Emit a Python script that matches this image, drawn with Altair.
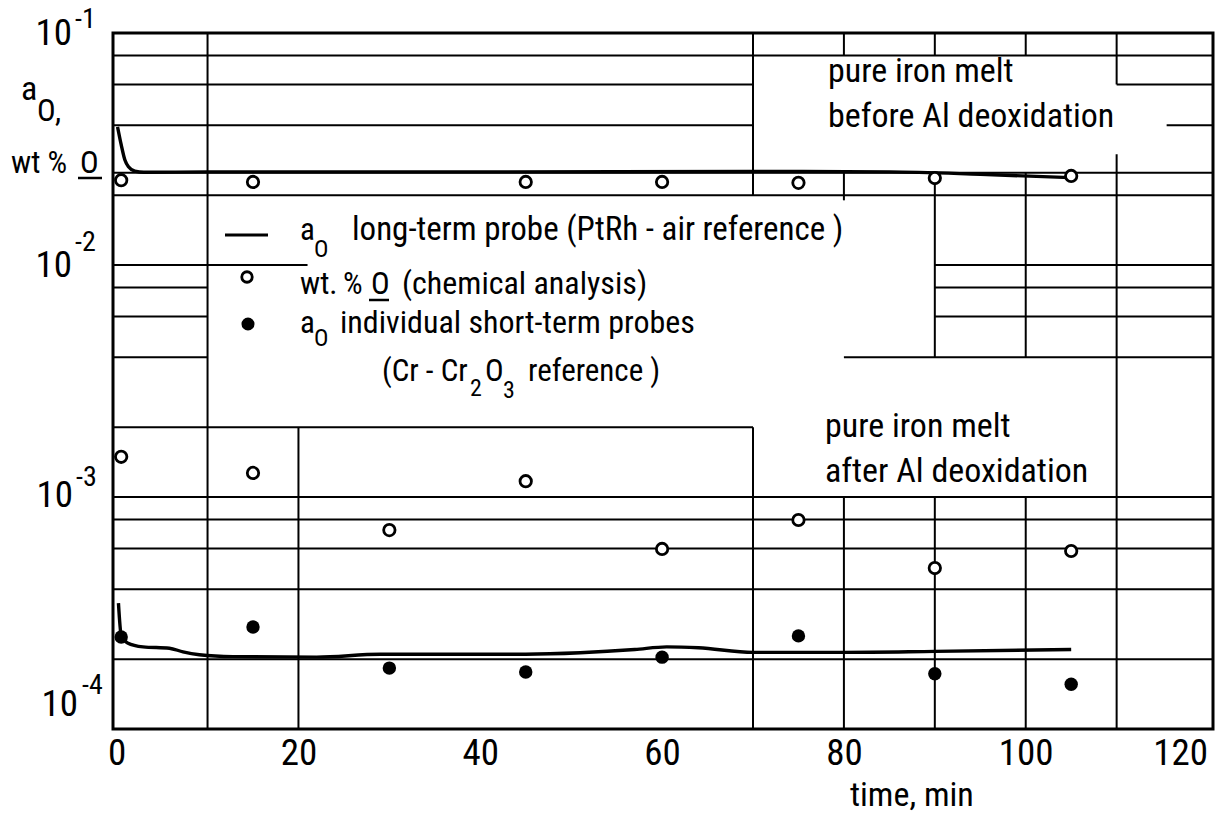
import altair as alt
import pandas as pd

# ---------------------------------------------------------------------------
# Oxygen activity a_O and oxygen content (wt.% O) of a pure iron melt
# before and after Al deoxidation, plotted against time (min)
# ---------------------------------------------------------------------------

# long-term probe (PtRh - air reference), before Al deoxidation
LT_BEFORE_T = [0.1, 0.5, 0.9, 1.3, 2.0, 3.0, 10, 40, 70, 85, 95, 105]
LT_BEFORE_A = [0.0394, 0.033, 0.0284, 0.0265, 0.0254, 0.0251, 0.0252,
               0.0252, 0.0253, 0.0252, 0.0246, 0.0238]

# long-term probe, after Al deoxidation
LT_AFTER_T = [0.2, 0.5, 1.2, 2.9, 5.8, 7.3, 9.1, 12.8, 22, 29, 45, 51,
              57, 60.5, 64, 70, 80, 90, 105]
LT_AFTER_A = [3.49e-4, 2.54e-4, 2.35e-4, 2.26e-4, 2.23e-4, 2.15e-4,
              2.09e-4, 2.05e-4, 2.04e-4, 2.10e-4, 2.10e-4, 2.13e-4,
              2.20e-4, 2.26e-4, 2.24e-4, 2.14e-4, 2.14e-4, 2.16e-4, 2.20e-4]

# chemical analysis, wt.% O
CHEM_BEFORE_T = [0.5, 15, 45, 60, 75, 90, 105]
CHEM_BEFORE = [0.0232, 0.0228, 0.0228, 0.0228, 0.0226, 0.0237, 0.0242]
CHEM_AFTER_T = [0.5, 15, 30, 45, 60, 75, 90, 105]
CHEM_AFTER = [1.49e-3, 1.27e-3, 7.2e-4, 1.17e-3, 5.97e-4, 7.96e-4,
              4.94e-4, 5.85e-4]

# individual short-term probes (Cr - Cr2O3 reference)
SHORT_T = [0.5, 15, 30, 45, 60, 75, 90, 105]
SHORT_A = [2.49e-4, 2.75e-4, 1.83e-4, 1.76e-4, 2.04e-4, 2.52e-4,
           1.73e-4, 1.56e-4]

# axes
X_DOMAIN = [-0.4, 120.6]
Y_DOMAIN = [1e-4, 1e-1]
X_TICKS = [0, 20, 40, 60, 80, 100, 120]
Y_TICK_VALUES = [1e-1, 1e-2, 1e-3, 1e-4]
Y_TICK_EXP = ["-1", "-2", "-3", "-4"]

# grid paper: horizontal segments (value, from t, to t)
L, R = X_DOMAIN
GRID_H_VALUE = [0.08, 0.06, 0.06, 0.04, 0.04, 0.025, 0.02,
                0.01, 0.01, 0.008, 0.008, 0.006, 0.006, 0.004, 0.004,
                0.002, 0.001, 8e-4, 6e-4, 4e-4, 2e-4]
GRID_H_FROM = [L, L, 110, L, 115.5, L, L,
               L, 90, L, 90, L, 90, L, 80,
               L, L, L, L, L, L]
GRID_H_TO = [R, 70, R, 70, R, R, R,
             21, R, 10, R, 10, R, 10, R,
             70, R, R, R, R, R]
# vertical segments (t, from value, to value)
GRID_V_T = [10, 20, 70, 70, 80, 80, 80, 90, 90, 90, 100, 100, 100, 110, 110]
GRID_V_FROM = [0.1, 0.002, 0.1, 0.002, 0.1, 0.025, 0.001, 0.1, 0.025, 0.001,
               0.1, 0.025, 0.001, 0.1, 0.03]
GRID_V_TO = [1e-4, 1e-4, 0.02, 1e-4, 0.08, 0.019, 1e-4, 0.08, 0.004, 1e-4,
             0.08, 0.004, 1e-4, 0.06, 1e-4]

# ---------------------------------------------------------------------------
FONT = ("'Roboto Condensed', 'Liberation Sans Narrow', "
        "'DejaVu Sans Condensed', 'Liberation Sans', sans-serif")
LEFT, TOP, W, H = 113, 33, 1100, 696

xs = alt.Scale(domain=X_DOMAIN, nice=False, zero=False)
ys = alt.Scale(type="log", domain=Y_DOMAIN, nice=False)

x_axis = alt.Axis(
    values=X_TICKS, format="d", grid=False, ticks=False, domain=False,
    labelFont=FONT, labelFontSize=37, labelColor="black", labelPadding=6,
    labelFlush=False, labelOverlap=False, title=None,
    labelAlign={"condition": {"test": "datum.value == 120", "value": "right"},
                "value": "center"},
)

hgrid_df = pd.DataFrame({"v": GRID_H_VALUE, "t0": GRID_H_FROM, "t1": GRID_H_TO})
vgrid_df = pd.DataFrame({"t": GRID_V_T, "v0": GRID_V_FROM, "v1": GRID_V_TO})

hgrid = alt.Chart(hgrid_df).mark_rule(color="black", strokeWidth=2).encode(
    x=alt.X("t0:Q", scale=xs, axis=x_axis),
    x2="t1:Q",
    y=alt.Y("v:Q", scale=ys, axis=None),
)
vgrid = alt.Chart(vgrid_df).mark_rule(color="black", strokeWidth=2).encode(
    x=alt.X("t:Q", scale=xs),
    y=alt.Y("v0:Q", scale=ys),
    y2="v1:Q",
)

lines_df = pd.concat([
    pd.DataFrame({"t": LT_BEFORE_T, "a": LT_BEFORE_A, "run": "before"}),
    pd.DataFrame({"t": LT_AFTER_T, "a": LT_AFTER_A, "run": "after"}),
])
probe_lines = alt.Chart(lines_df).mark_line(
    color="black", strokeWidth=3.4, interpolate="monotone"
).encode(
    x=alt.X("t:Q", scale=xs),
    y=alt.Y("a:Q", scale=ys),
    detail="run:N",
)

chem_df = pd.DataFrame({"t": CHEM_BEFORE_T + CHEM_AFTER_T,
                        "w": CHEM_BEFORE + CHEM_AFTER})
chem = alt.Chart(chem_df).mark_point(
    shape="circle", filled=True, fill="white", stroke="black",
    strokeWidth=2.8, size=130, opacity=1,
).encode(x=alt.X("t:Q", scale=xs), y=alt.Y("w:Q", scale=ys))

short_df = pd.DataFrame({"t": SHORT_T, "a": SHORT_A})
short = alt.Chart(short_df).mark_point(
    shape="circle", filled=True, color="black", size=180, opacity=1,
).encode(x=alt.X("t:Q", scale=xs), y=alt.Y("a:Q", scale=ys))

# y tick labels "10" with raised exponent, nudged per decade
ytick_df = pd.DataFrame({"v": Y_TICK_VALUES, "exp": Y_TICK_EXP})
TEN_RIGHT = [72, 72, 73, 78]
TEN_DY = [1, 1, -1, -24]
EXP_LEFT = [75, 75, 76, 82]
EXP_DY = [-13, -22, -19, -43]
ytick_layers = []
for i, v in enumerate(Y_TICK_VALUES):
    sel = alt.Chart(ytick_df).transform_filter(f"abs(datum.v - {v}) < {v} * 1e-6")
    ytick_layers.append(sel.mark_text(
        text="10", font=FONT, fontSize=37, align="right", baseline="middle",
        dy=TEN_DY[i], color="black",
    ).encode(x=alt.value(TEN_RIGHT[i] - LEFT), y=alt.Y("v:Q", scale=ys)))
    ytick_layers.append(sel.mark_text(
        font=FONT, fontSize=28, align="left", baseline="middle",
        dy=EXP_DY[i], color="black",
    ).encode(x=alt.value(EXP_LEFT[i] - LEFT), y=alt.Y("v:Q", scale=ys),
             text="exp:N"))

ONE = alt.Data(values=[{"k": 0}])


def text_at(s, x, y, size, align="left", baseline="alphabetic"):
    """Text placed in page pixels (x, y)."""
    return alt.Chart(ONE).mark_text(
        text=s, font=FONT, fontSize=size, align=align, baseline=baseline,
        color="black",
    ).encode(x=alt.value(x - LEFT), y=alt.value(y - TOP))


def hline_at(x0, x1, y, width=2.5):
    return alt.Chart(ONE).mark_rule(color="black", strokeWidth=width).encode(
        x=alt.value(x0 - LEFT), x2=alt.value(x1 - LEFT), y=alt.value(y - TOP))


def dot_at(x, y, filled_black):
    if filled_black:
        m = alt.Chart(ONE).mark_point(shape="circle", filled=True,
                                      color="black", size=170, opacity=1)
    else:
        m = alt.Chart(ONE).mark_point(shape="circle", filled=True,
                                      fill="white", stroke="black",
                                      strokeWidth=2.8, size=110, opacity=1)
    return m.encode(x=alt.value(x - LEFT), y=alt.value(y - TOP))


LEG = 31      # legend text size
LEG_SUB = 24  # legend subscript size

annotations = [
    # y-axis title: a_O, wt % O
    text_at("a", 21, 100, 34),
    text_at("O", 37, 121, 31),
    text_at(",", 55, 121, 31),
    text_at("wt %", 11, 173, 31),
    text_at("O", 80, 173, 31),
    hline_at(78, 102, 178),
    # x-axis title
    text_at("time, min", 850, 806, 34),
    # melt state labels
    text_at("pure iron melt", 828, 82, 34),
    text_at("before Al deoxidation", 828, 127, 34),
    text_at("pure iron melt", 825, 437, 34),
    text_at("after Al deoxidation", 825, 482, 34),
    # legend
    hline_at(225, 268, 235, 3),
    text_at("a", 300, 240, LEG),
    text_at("O", 314, 257, LEG_SUB),
    text_at("long-term probe (PtRh - air reference )", 352, 240, LEG + 2),
    dot_at(247, 277, False),
    text_at("wt.", 300, 294, LEG),
    text_at("%", 343, 294, LEG),
    text_at("O", 371, 294, LEG),
    hline_at(369, 389, 300),
    text_at("(chemical analysis)", 402, 294, LEG + 1),
    dot_at(248, 324, True),
    text_at("a", 300, 333, LEG),
    text_at("O", 314, 346, LEG_SUB),
    text_at("individual short-term probes", 340, 333, LEG + 1),
    text_at("(Cr - Cr", 382, 381, LEG),
    text_at("2", 470, 396, LEG_SUB),
    text_at("O", 485, 381, LEG),
    text_at("3", 503, 398, LEG_SUB),
    text_at("reference )", 528, 381, LEG),
]

chart = alt.layer(
    hgrid, vgrid, probe_lines, chem, short,
    *ytick_layers,
    *annotations,
).properties(
    width=W, height=H,
    autosize=alt.AutoSizeParams(type="none"),
    padding={"left": LEFT, "top": TOP, "right": 1227 - LEFT - W,
             "bottom": 813 - TOP - H},
    background="white",
).configure_view(
    stroke="black", strokeWidth=3,
)

chart.save("out.html", embed_options={"renderer": "svg", "actions": False})
